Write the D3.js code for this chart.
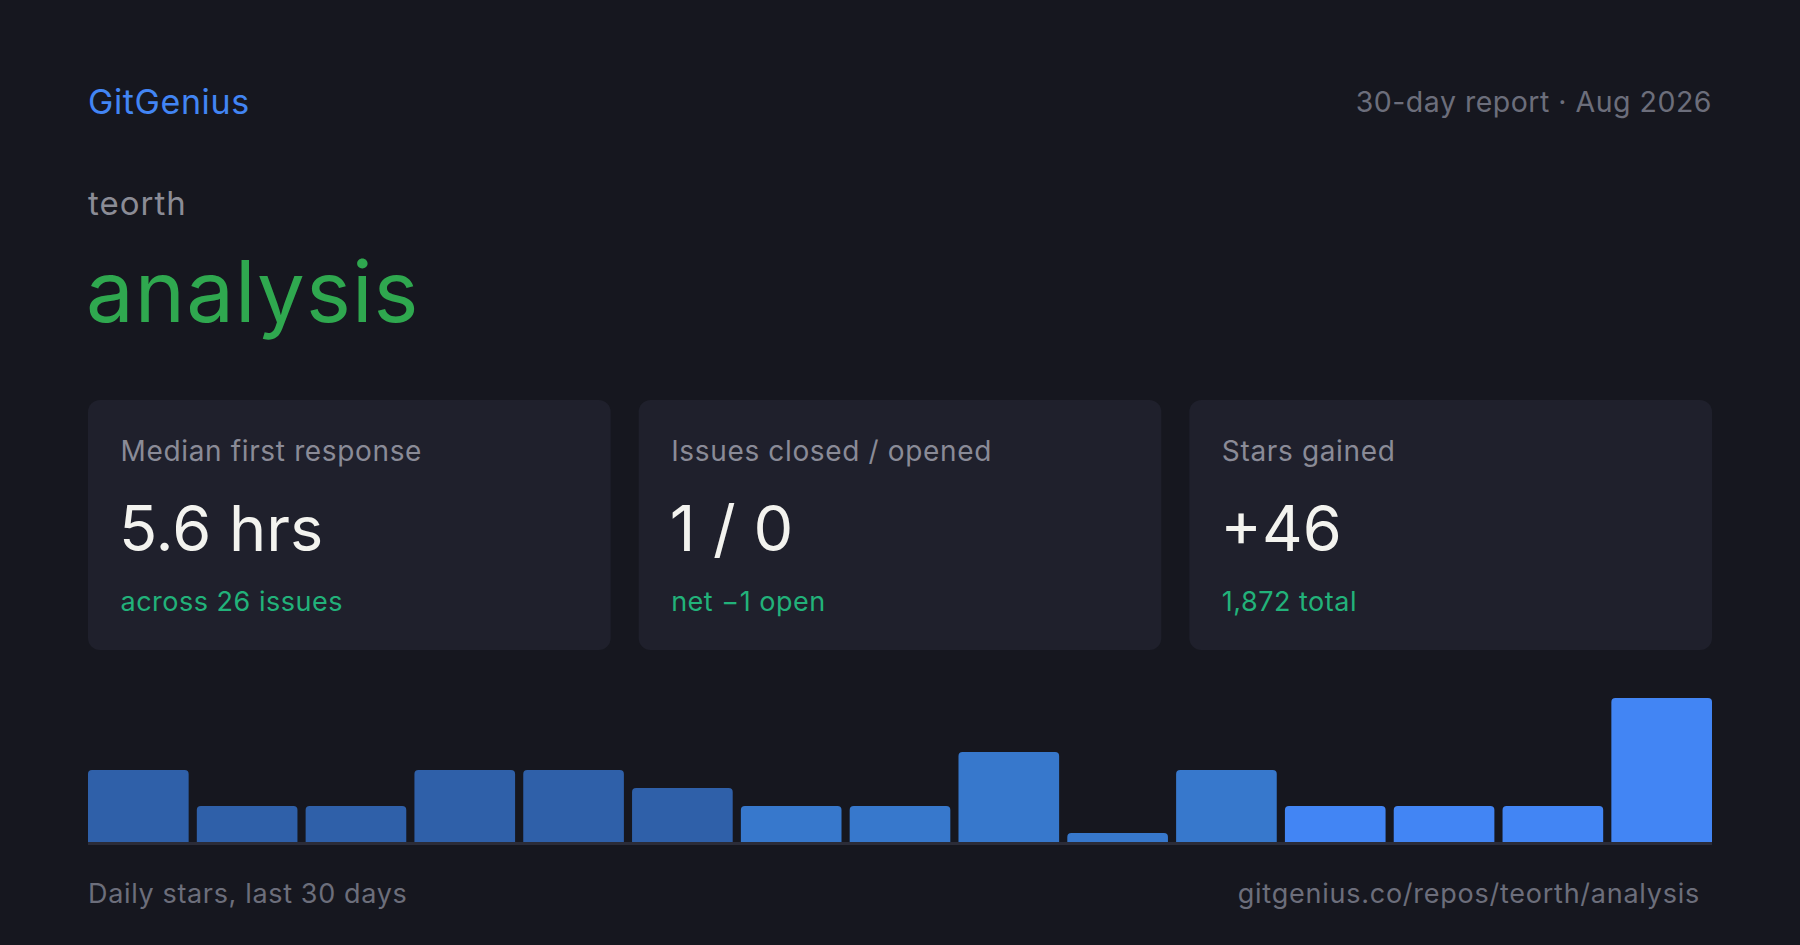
<!DOCTYPE html>
<html>
<head>
<meta charset="utf-8">
<script src="https://cdn.jsdelivr.net/npm/d3@7"></script>
<style>
  html, body { margin: 0; padding: 0; background: #16171f; }
  svg { display: block; font-family: Inter, "Noto Sans", sans-serif; }
</style>
</head>
<body>
<div id="chart"></div>
<script>
// report header
var brand = "GitGenius";
var reportLabel = "30-day report · Aug 2026";
var owner = "teorth";
var repo = "analysis";

// stat cards
var cardLabels = ["Median first response", "Issues closed / opened", "Stars gained"];
var cardValues = ["5.6 hrs", "1 / 0", "+46"];
var cardNotes = ["across 26 issues", "net −1 open", "1,872 total"];

// daily stars, bucketed in 2-day bins (sums to 46)
var starBins = [4, 2, 2, 4, 4, 3, 2, 2, 5, 0, 4, 2, 2, 2, 8];
var footerLeft = "Daily stars, last 30 days";
var footerRight = "gitgenius.co/repos/teorth/analysis";

var W = 1800, H = 945;
var margin = {left: 88, right: 88};
var innerW = W - margin.left - margin.right;

var svg = d3.select("#chart").append("svg")
    .attr("width", W)
    .attr("height", H);

svg.append("rect")
    .attr("width", W)
    .attr("height", H)
    .attr("fill", "#16171f");

// header
svg.append("text")
    .attr("x", margin.left)
    .attr("y", 114)
    .attr("font-size", 34)
    .attr("letter-spacing", 0.6)
    .attr("fill", "#4285f4")
    .text(brand);

svg.append("text")
    .attr("x", W - margin.right)
    .attr("y", 112)
    .attr("text-anchor", "end")
    .attr("font-size", 28.5)
    .attr("letter-spacing", 0.5)
    .attr("fill", "#6c6e7b")
    .text(reportLabel);

svg.append("text")
    .attr("x", margin.left)
    .attr("y", 215)
    .attr("font-size", 33)
    .attr("letter-spacing", 1)
    .attr("fill", "#8b8c96")
    .text(owner);

svg.append("text")
    .attr("x", margin.left - 2)
    .attr("y", 322)
    .attr("font-size", 85)
    .attr("letter-spacing", 1.1)
    .attr("fill", "#2fa84f")
    .text(repo);

// cards
var cardGap = 28;
var cardW = (innerW - 2 * cardGap) / 3;
var cardTop = 400, cardH = 250;

var cards = svg.append("g").attr("class", "cards")
    .selectAll("g")
    .data(cardLabels)
    .join("g")
    .attr("transform", function(d, i) {
        return "translate(" + (margin.left + i * (cardW + cardGap)) + "," + cardTop + ")";
    });

cards.append("rect")
    .attr("width", cardW)
    .attr("height", cardH)
    .attr("rx", 12)
    .attr("fill", "#1f202c");

cards.append("text")
    .attr("x", 32.5)
    .attr("y", 61)
    .attr("font-size", 28)
    .attr("letter-spacing", 0.65)
    .attr("fill", "#8a8b97")
    .text(function(d) { return d; });

cards.append("text")
    .attr("x", 31)
    .attr("y", 151)
    .attr("font-size", 63)
    .attr("fill", "#f3f3ef")
    .text(function(d, i) { return cardValues[i]; });

cards.append("text")
    .attr("x", 32.5)
    .attr("y", 211)
    .attr("font-size", 27)
    .attr("letter-spacing", 0.5)
    .attr("fill", "#22b27a")
    .text(function(d, i) { return cardNotes[i]; });

// bar chart
var baseY = 842, topY = 698;

var x = d3.scaleBand()
    .domain(d3.range(starBins.length))
    .range([margin.left, W - margin.right])
    .paddingInner(0.075)
    .paddingOuter(0);

var y = d3.scaleLinear()
    .domain([0, d3.max(starBins)])
    .range([baseY, topY]);

// older bins darker, recent bins brighter
var shade = d3.scaleThreshold()
    .domain([6, 11])
    .range(["#2f60a9", "#3778cc", "#4285f4"]);

var minH = 9, r = 4;

function barPath(d, i) {
    var x0 = x(i), w = x.bandwidth();
    var h = Math.max(baseY - y(d), minH);
    var t = baseY - h;
    return "M" + x0 + "," + baseY +
        "V" + (t + r) +
        "Q" + x0 + "," + t + " " + (x0 + r) + "," + t +
        "H" + (x0 + w - r) +
        "Q" + (x0 + w) + "," + t + " " + (x0 + w) + "," + (t + r) +
        "V" + baseY + "Z";
}

svg.append("g").attr("class", "bars")
    .selectAll("path")
    .data(starBins)
    .join("path")
    .attr("d", barPath)
    .attr("fill", function(d, i) { return shade(i); });

svg.append("rect")
    .attr("x", margin.left)
    .attr("y", baseY)
    .attr("width", innerW)
    .attr("height", 3)
    .attr("fill", "#2b2c38");

// footer
svg.append("text")
    .attr("x", margin.left)
    .attr("y", 903)
    .attr("font-size", 27)
    .attr("letter-spacing", 0.65)
    .attr("fill", "#6c6e7b")
    .text(footerLeft);

svg.append("text")
    .attr("x", W - margin.right - 12)
    .attr("y", 903)
    .attr("text-anchor", "end")
    .attr("font-size", 27)
    .attr("letter-spacing", 0.75)
    .attr("fill", "#6c6e7b")
    .text(footerRight);
</script>
</body>
</html>
